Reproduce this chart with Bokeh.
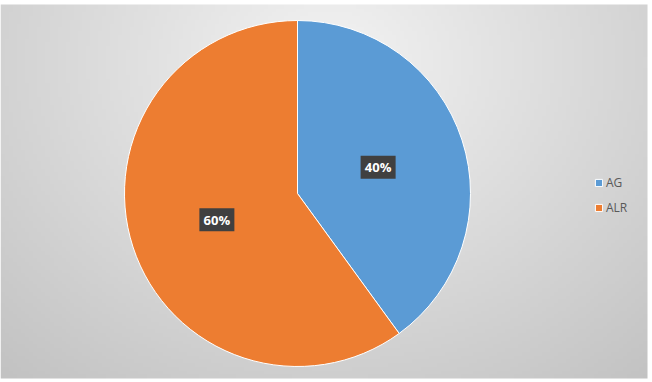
import numpy as np
from bokeh.plotting import figure
from bokeh.models import ColumnDataSource, Range1d, Legend, LegendItem
from bokeh.core.properties import value
from bokeh.embed import file_html
from bokeh.resources import INLINE

categories = ["AG", "ALR"]
values = [40, 60]
colors = ["#5B9BD5", "#ED7D31"]

W, H = 652, 382
p = figure(width=W, height=H, output_backend="svg", toolbar_location=None,
           x_range=Range1d(0, W), y_range=Range1d(0, H), min_border=0)
p.axis.visible = False
p.grid.visible = False
p.outline_line_color = None
p.background_fill_color = "white"
p.border_fill_color = "white"

# background radial gradient (styling only)
gx0, gx1, gy0, gy1 = 0, 647, 4, 378  # pixel coords
nx, ny = 160, 100
xs = np.linspace(gx0, gx1, nx)
ys = np.linspace(H - gy1, H - gy0, ny)  # data y ascending (row 0 = bottom)
XX, YY = np.meshgrid(xs, ys)
cx, cy, rx, ry = 330, H - 60, 450, 380
d = np.sqrt(((XX - cx) / rx) ** 2 + ((YY - cy) / ry) ** 2)
g = np.clip(243 - 44 * d, 190, 245).astype(np.uint32)
img = ((255 << 24) | (g << 16) | (g << 8) | g).astype(np.uint32)
p.image_rgba(image=[img], x=gx0, y=H - gy1, dw=gx1 - gx0, dh=gy1 - gy0)

# pie
total = sum(values)
fracs = [v / total for v in values]
starts, ends, mids = [], [], []
a = np.pi / 2
for f in fracs:
    starts.append(a)
    e = a - f * 2 * np.pi
    ends.append(e)
    mids.append((a + e) / 2)
    a = e
pcx, pcy, R = 297, H - 193, 173
src = ColumnDataSource(dict(cat=categories, val=values, color=colors,
                            start=starts, end=ends))
r = p.wedge(x=pcx, y=pcy, radius=R, start_angle="start", end_angle="end",
            direction="clock", fill_color="color", line_color="white",
            line_width=1, source=src)

# data labels
lr = 0.49 * R
lx = [pcx + lr * np.cos(m) for m in mids]
ly = [pcy + lr * np.sin(m) for m in mids]
labels = [f"{round(f*100)}%" for f in fracs]
lsrc = ColumnDataSource(dict(x=lx, y=ly, t=labels))
p.rect(x="x", y="y", width=35, height=23, fill_color="#404040",
       line_color=None, source=lsrc)
p.text(x="x", y="y", text="t", text_color="white", text_font=value("Open Sans"),
       text_font_style="bold", text_font_size="13px", text_align="center",
       text_baseline="middle", source=lsrc)

# legend
items = [LegendItem(label=c, renderers=[r], index=i) for i, c in enumerate(categories)]
legend = Legend(items=items, location=(594, 166), orientation="vertical",
                background_fill_alpha=0, border_line_color=None,
                label_text_font="Open Sans", label_text_font_size="12px",
                label_text_color="#595959", glyph_width=9, glyph_height=9,
                spacing=8, padding=0, margin=0, label_standoff=3,
                label_height=14)
p.add_layout(legend, "center")

open("out.html", "w").write(file_html(p, INLINE))
